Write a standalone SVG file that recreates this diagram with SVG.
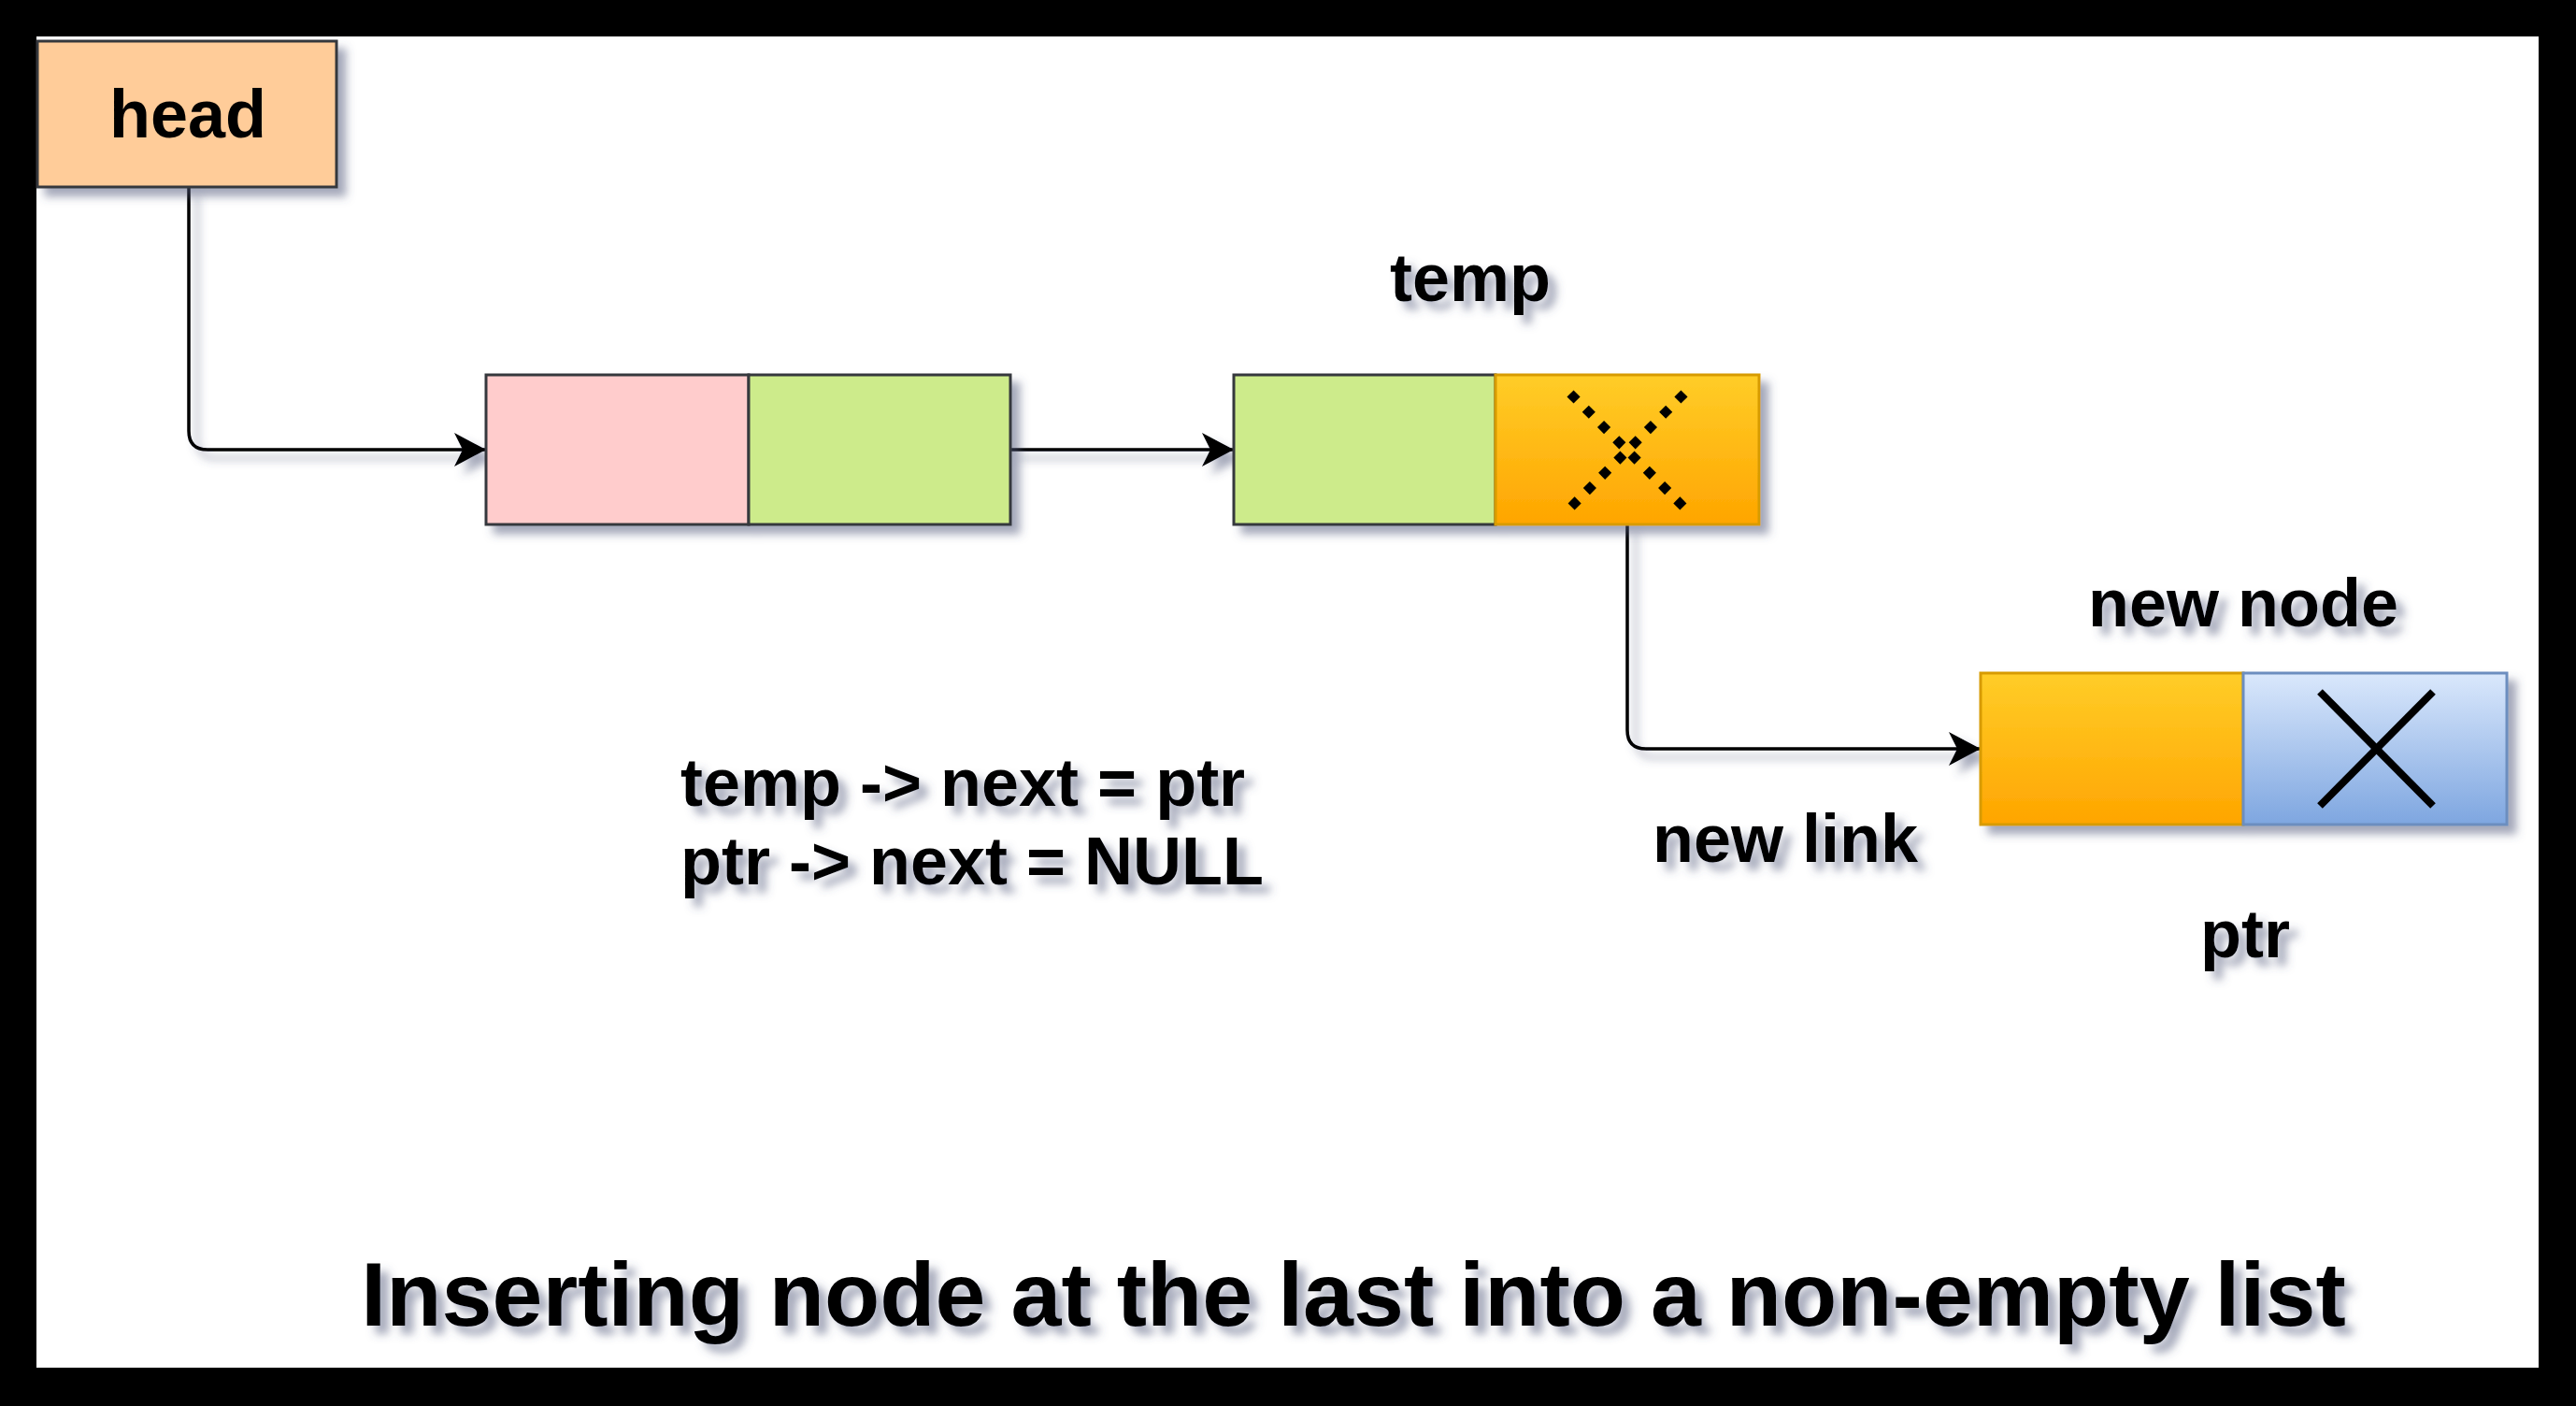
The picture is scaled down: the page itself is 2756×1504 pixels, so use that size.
<svg xmlns="http://www.w3.org/2000/svg" width="2756" height="1504" viewBox="0 0 2756 1504">
  <style>
    .lbl { font-family: "Liberation Sans", Arial, sans-serif; font-weight: bold; font-size: 72px; fill: #000000; }
    .title { font-family: "Liberation Sans", Arial, sans-serif; font-weight: bold; font-size: 97px; fill: #000000; }
    .box { stroke: #36393d; stroke-width: 3; }
    .conn { fill: none; stroke: #000000; stroke-width: 3.5; }
  </style>
  <defs>
    <filter id="sh" x="-20%" y="-20%" width="140%" height="160%">
      <feDropShadow dx="9" dy="9" stdDeviation="5" flood-color="#4a5275" flood-opacity="0.5"/>
    </filter>
    <linearGradient id="orange" x1="0" y1="0" x2="0" y2="1">
      <stop offset="0" stop-color="#ffcd28"/>
      <stop offset="1" stop-color="#ffa500"/>
    </linearGradient>
    <linearGradient id="blue" x1="0" y1="0" x2="0" y2="1">
      <stop offset="0" stop-color="#dae8fc"/>
      <stop offset="1" stop-color="#7ea6e0"/>
    </linearGradient>
    <marker id="arrow" markerUnits="userSpaceOnUse" markerWidth="36" markerHeight="38" refX="34" refY="18" orient="auto" viewBox="0 0 36 36">
      <path d="M0,0 L34,18 L0,36 L9,18 Z" fill="#000000"/>
    </marker>
  </defs>

  <rect x="0" y="0" width="2756" height="1504" fill="#000000"/>
  <rect x="39" y="39" width="2677" height="1424" fill="#ffffff"/>

  <g id="connectors" filter="url(#sh)">
    <path class="conn" d="M202,200 V461 Q202,481 222,481 H520" marker-end="url(#arrow)"/>
    <path class="conn" d="M1081,481 H1320" marker-end="url(#arrow)"/>
    <path class="conn" d="M1741,561 V781 Q1741,801 1761,801 H2119" marker-end="url(#arrow)"/>
  </g>

  <g id="head" filter="url(#sh)">
    <rect class="box" x="40" y="44" width="320" height="156" fill="#ffcc99"/>
    <text class="lbl" x="201" y="147" text-anchor="middle">head</text>
  </g>

  <g id="node1" filter="url(#sh)">
    <rect class="box" x="520" y="401" width="281" height="160" fill="#ffcccc"/>
    <rect class="box" x="801" y="401" width="280" height="160" fill="#cdeb8b"/>
  </g>

  <g id="node2" filter="url(#sh)">
    <rect class="box" x="1320" y="401" width="280" height="160" fill="#cdeb8b"/>
    <rect x="1600" y="401" width="282" height="160" fill="url(#orange)" stroke="#d79b00" stroke-width="3"/>
    <g stroke="#000000" stroke-width="10" stroke-dasharray="10 13">
      <line x1="1680" y1="421" x2="1802" y2="543"/>
      <line x1="1802" y1="421" x2="1680" y2="543"/>
    </g>
  </g>

  <g id="label-temp" filter="url(#sh)">
    <text class="lbl" x="1573" y="322" text-anchor="middle">temp</text>
  </g>

  <g id="newnode" filter="url(#sh)">
    <rect x="2119" y="720" width="281" height="162" fill="url(#orange)" stroke="#d79b00" stroke-width="3"/>
    <rect x="2400" y="720" width="282" height="162" fill="url(#blue)" stroke="#6c8ebf" stroke-width="3"/>
    <g stroke="#000000" stroke-width="8">
      <line x1="2482" y1="740" x2="2603" y2="862"/>
      <line x1="2603" y1="740" x2="2482" y2="862"/>
    </g>
  </g>

  <g id="labels" filter="url(#sh)">
    <text class="lbl" x="2400" y="670" text-anchor="middle">new node</text>
    <text class="lbl" x="1910" y="922" text-anchor="middle">new link</text>
    <text class="lbl" x="2402" y="1024" text-anchor="middle">ptr</text>
    <text class="lbl" x="728" y="862">temp -&gt; next = ptr</text>
    <text class="lbl" x="728" y="946">ptr -&gt; next = NULL</text>
    <text class="title" x="1448" y="1418" text-anchor="middle">Inserting node at the last into a non-empty list</text>
  </g>
</svg>
